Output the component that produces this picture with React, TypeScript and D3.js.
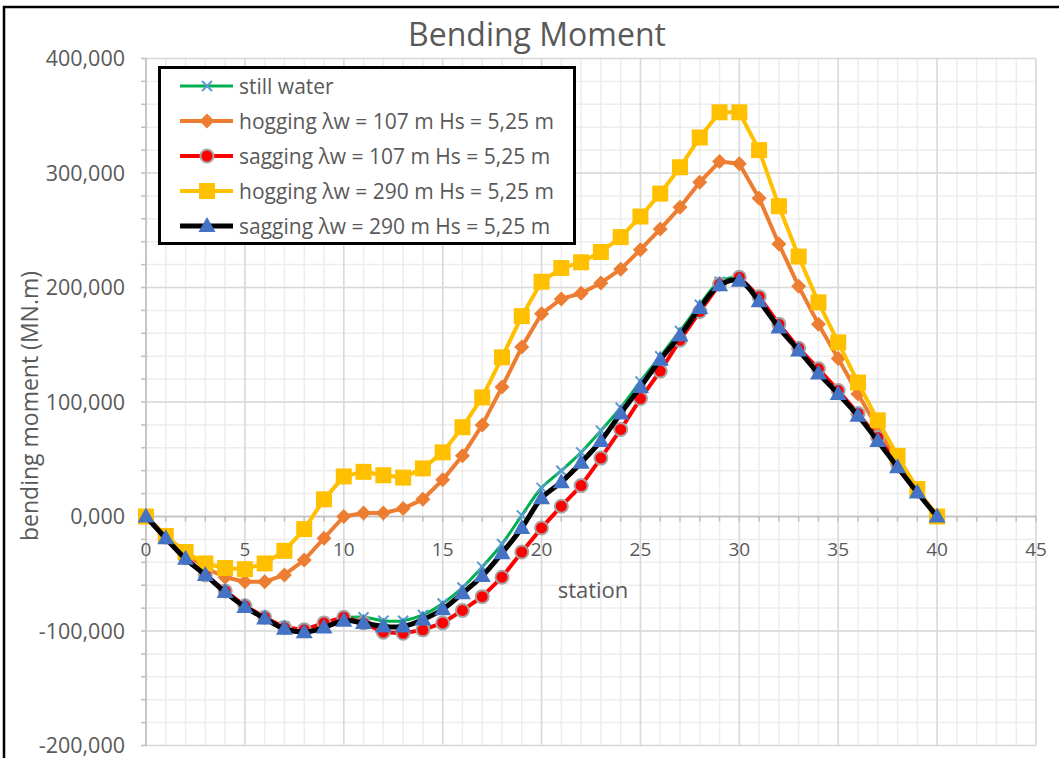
import React from 'react';
import * as d3 from 'd3';

// stations along the hull
const stations = d3.range(0, 41);

// bending moment values (MN.m)
const stillWater = [0, -18000, -36000, -51000, -65000, -78000, -88000, -96000, -99000, -95000, -89000, -88000, -91000, -91000, -86000, -76000, -62000, -44000, -24000, 1000, 25000, 40000, 56000, 75000, 95000, 118000, 140000, 162000, 185000, 205000, 208000, 190000, 166000, 146000, 126000, 107000, 88000, 67000, 44000, 22000, 0];
const hogging107 = [0, -17000, -32000, -45000, -53000, -57000, -57000, -51000, -38000, -19000, 0, 3000, 3000, 7000, 15000, 32000, 53000, 80000, 113000, 148000, 177000, 190000, 195000, 204000, 216000, 233000, 251000, 270000, 292000, 310000, 308000, 278000, 238000, 201000, 168000, 138000, 107000, 77000, 49000, 22000, 0];
const sagging107 = [0, -18000, -36000, -51000, -65000, -78000, -88000, -97000, -99000, -93000, -88000, -93000, -101000, -102000, -99000, -93000, -82000, -70000, -53000, -31000, -10000, 9000, 27000, 51000, 76000, 103000, 127000, 154000, 179000, 203000, 209000, 192000, 168000, 147000, 129000, 110000, 90000, 69000, 46000, 23000, 0];
const hogging290 = [0, -17000, -31000, -41000, -45000, -46000, -41000, -30000, -11000, 15000, 35000, 39000, 36000, 34000, 42000, 56000, 78000, 104000, 139000, 175000, 205000, 217000, 222000, 231000, 244000, 262000, 282000, 305000, 331000, 353000, 353000, 320000, 271000, 227000, 187000, 152000, 117000, 84000, 53000, 24000, 0];
const sagging290 = [0, -19000, -37000, -51000, -66000, -79000, -89000, -98000, -101000, -97000, -91000, -93000, -96000, -96000, -90000, -81000, -67000, -52000, -32000, -10000, 16000, 30000, 47000, 66000, 90000, 113000, 137000, 158000, 182000, 202000, 206000, 188000, 165000, 145000, 125000, 107000, 88000, 66000, 43000, 21000, 0];

const seriesNames = [
  'still water',
  'hogging λw = 107 m Hs = 5,25 m',
  'sagging λw = 107 m Hs = 5,25 m',
  'hogging λw = 290 m Hs = 5,25 m',
  'sagging λw = 290 m Hs = 5,25 m',
];

const xTicks = [0, 5, 10, 15, 20, 25, 30, 35, 40, 45];
const yTicks = [-200000, -100000, 0, 100000, 200000, 300000, 400000];

const FONT = '"Open Sans", sans-serif';
const TEXT = '#595959';

const W = 1059;
const H = 758;
const x = d3.scaleLinear().domain([0, 45]).range([146, 1036]);
const y = d3.scaleLinear().domain([-200000, 400000]).range([745.5, 58.5]);

const locale = d3.formatLocale({ decimal: '.', thousands: ',', grouping: [3], currency: ['', ''], minus: '-' });
const fmt = (v: number) => (v === 0 ? '0,000' : locale.format(',')(v));

const series = [
  { name: seriesNames[0], values: stillWater, color: '#00B050', width: 3, marker: 'x', smooth: true },
  { name: seriesNames[1], values: hogging107, color: '#ED7D31', width: 4, marker: 'diamond', smooth: false },
  { name: seriesNames[2], values: sagging107, color: '#FF0000', width: 4, marker: 'circle', smooth: false },
  { name: seriesNames[3], values: hogging290, color: '#FFC000', width: 4, marker: 'square', smooth: false },
  { name: seriesNames[4], values: sagging290, color: '#000000', width: 5, marker: 'triangle', smooth: true },
];

const Marker = ({ type, cx, cy }: { type: string; cx: number; cy: number }) => {
  if (type === 'x') {
    const r = 5;
    return (
      <g stroke="#5B9BD5" strokeWidth={2}>
        <line x1={cx - r} y1={cy - r} x2={cx + r} y2={cy + r} />
        <line x1={cx - r} y1={cy + r} x2={cx + r} y2={cy - r} />
      </g>
    );
  }
  if (type === 'diamond') {
    const r = 7.5;
    return <path d={`M${cx},${cy - r}L${cx + r},${cy}L${cx},${cy + r}L${cx - r},${cy}Z`} fill="#ED7D31" />;
  }
  if (type === 'circle') {
    return <circle cx={cx} cy={cy} r={6.5} fill="#FF0000" stroke="#A5A5A5" strokeWidth={2} />;
  }
  if (type === 'square') {
    return <rect x={cx - 8} y={cy - 8} width={16} height={16} fill="#FFC000" />;
  }
  return <path d={`M${cx},${cy - 9}L${cx + 8.5},${cy + 6}L${cx - 8.5},${cy + 6}Z`} fill="#4472C4" />;
};

const App = () => {
  const minorX = d3.range(0, 46, 1);
  const minorY = d3.range(-200000, 400001, 20000);

  return (
    <div style={{ position: 'absolute', left: 0, top: 0 }}>
      <svg width={W} height={H} style={{ display: 'block', fontFamily: FONT }}>
        <rect x={0} y={0} width={W} height={H} fill="#fff" />
        <rect x={4} y={7} width={W + 10} height={H + 10} fill="none" stroke="#000" strokeWidth={2.5} />

        <text x={537} y={46} textAnchor="middle" fontSize={32} fill={TEXT}>
          Bending Moment
        </text>

        {/* gridlines */}
        <g>
          {minorY.map((v) => (
            <line key={'my' + v} x1={x(0)} x2={x(45)} y1={y(v)} y2={y(v)} stroke="#EDEDED" strokeWidth={1.5} />
          ))}
          {minorX.map((v) => (
            <line key={'mx' + v} x1={x(v)} x2={x(v)} y1={y(-200000)} y2={y(400000)} stroke="#EDEDED" strokeWidth={1.5} />
          ))}
          {yTicks.map((v) => (
            <line key={'gy' + v} x1={x(0)} x2={x(45)} y1={y(v)} y2={y(v)} stroke="#D9D9D9" strokeWidth={1.5} />
          ))}
          {xTicks.map((v) => (
            <line key={'gx' + v} x1={x(v)} x2={x(v)} y1={y(-200000)} y2={y(400000)} stroke="#D9D9D9" strokeWidth={1.5} />
          ))}
        </g>

        {/* axes */}
        <g stroke="#BFBFBF" strokeWidth={1.5}>
          <line x1={x(0)} x2={x(0)} y1={y(-200000)} y2={y(400000)} />
          {minorY.map((v) => (
            <line key={'ty' + v} x1={x(0) - 5} x2={x(0)} y1={y(v)} y2={y(v)} />
          ))}
          <line x1={x(0)} x2={x(45)} y1={y(0)} y2={y(0)} />
          {minorX.map((v) => (
            <line key={'tx' + v} x1={x(v)} x2={x(v)} y1={y(0)} y2={y(0) + 5} />
          ))}
        </g>

        {yTicks.map((v) => (
          <text key={'ly' + v} x={125} y={y(v)} dy="0.36em" textAnchor="end" fontSize={21.5} fill={TEXT}>
            {fmt(v)}
          </text>
        ))}
        {xTicks.map((v) => (
          <text key={'lx' + v} x={x(v)} y={556} textAnchor="middle" fontSize={19} fill={TEXT}>
            {v}
          </text>
        ))}

        <text x={593} y={598} textAnchor="middle" fontSize={22} fill={TEXT}>
          station
        </text>
        <text
          transform={`translate(38, 406) rotate(-90)`}
          textAnchor="middle"
          fontSize={23}
          fill={TEXT}
        >
          bending moment (MN.m)
        </text>

        {/* series */}
        {series.map((s) => {
          const line = d3
            .line<number>()
            .x((_, i) => x(stations[i]))
            .y((d) => y(d))
            .curve(s.smooth ? d3.curveCatmullRom.alpha(0.5) : d3.curveLinear);
          return (
            <g key={s.name}>
              <path d={line(s.values) || ''} fill="none" stroke={s.color} strokeWidth={s.width} strokeLinejoin="round" />
              {s.values.map((v, i) => (
                <Marker key={i} type={s.marker} cx={x(stations[i])} cy={y(v)} />
              ))}
            </g>
          );
        })}

        {/* legend */}
        <g>
          <rect x={159.5} y={67.5} width={415} height={176} fill="#fff" stroke="#000" strokeWidth={3} />
          {series.map((s, i) => {
            const ly = 86 + i * 35;
            return (
              <g key={'lg' + i}>
                <line x1={180} x2={233} y1={ly} y2={ly} stroke={s.color} strokeWidth={s.width} />
                <Marker type={s.marker} cx={207} cy={ly} />
                <text x={239} y={ly} dy="0.36em" fontSize={21} fill={TEXT}>
                  {s.name}
                </text>
              </g>
            );
          })}
        </g>
      </svg>
    </div>
  );
};

export default App;
